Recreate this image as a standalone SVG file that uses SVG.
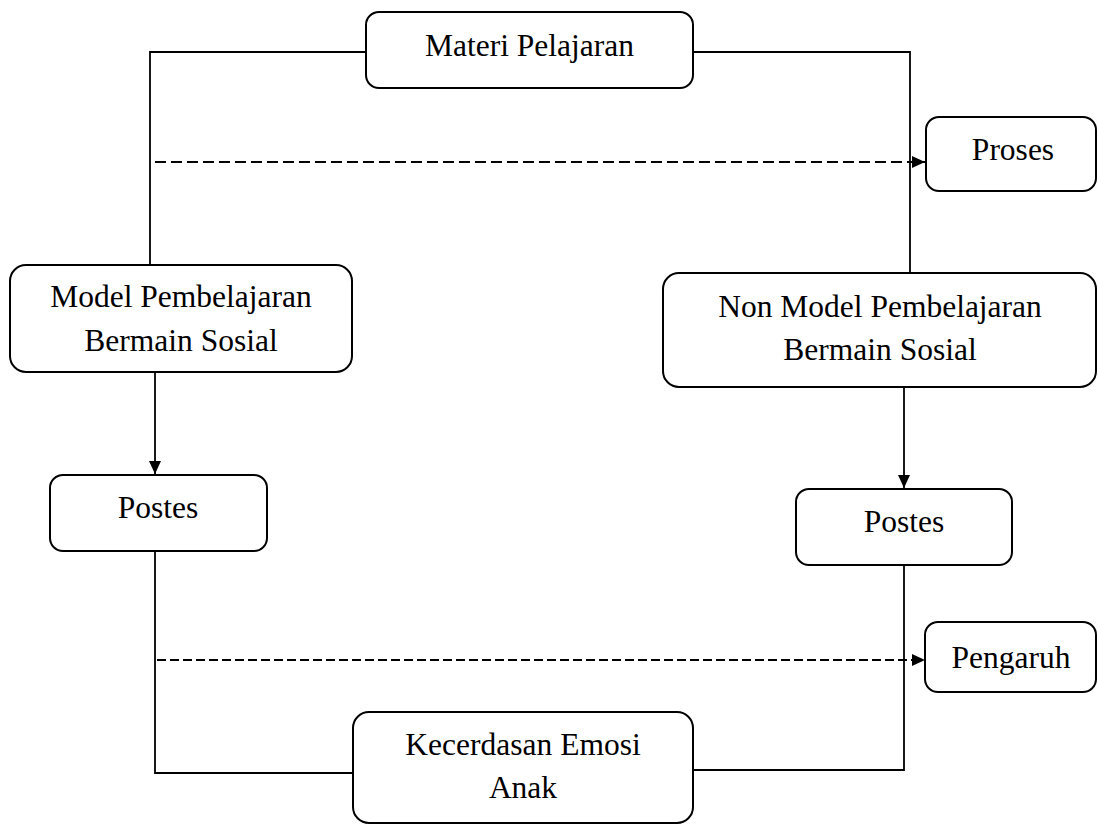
<svg xmlns="http://www.w3.org/2000/svg" width="1098" height="826" viewBox="0 0 1098 826">
<style>
.box{fill:#fff;stroke:#000;stroke-width:2}
text{font-family:'Liberation Serif',Tinos,'Times New Roman','DejaVu Serif',serif;font-size:31.5px;fill:#000;text-anchor:middle}
.ln{fill:none;stroke:#000;stroke-width:1.8}
.dash{fill:none;stroke:#000;stroke-width:1.8;stroke-dasharray:11 5}
</style>
<defs>
<marker id="ah" markerWidth="14" markerHeight="14" refX="13" refY="7" orient="auto" markerUnits="userSpaceOnUse">
<path d="M0,1 L13,7 L0,13 Z" fill="#000"/>
</marker>
</defs>
<rect width="1098" height="826" fill="#fff"/>
<g id="connectors">
<polyline class="ln" points="366,52 150,52 150,265"/>
<polyline class="ln" points="693,52 910,52 910,273"/>
<line class="dash" x1="155" y1="162" x2="925" y2="162" marker-end="url(#ah)"/>
<line class="ln" x1="155" y1="372" x2="155" y2="474" marker-end="url(#ah)"/>
<line class="ln" x1="904" y1="387" x2="904" y2="488" marker-end="url(#ah)"/>
<polyline class="ln" points="155,551 155,773 353,773"/>
<polyline class="ln" points="904,565 904,770 693,770"/>
<line class="dash" x1="157" y1="660" x2="925" y2="660" marker-end="url(#ah)" style="stroke-dasharray:9 4"/>
</g>
<g id="materi">
<rect class="box" x="366" y="12" width="327" height="76" rx="13"/>
<text font-family="Liberation Serif" x="529.5" y="56">Materi Pelajaran</text>
</g>
<g id="proses">
<rect class="box" x="926" y="117" width="170" height="74" rx="13"/>
<text x="1013" y="160">Proses</text>
</g>
<g id="model">
<rect class="box" x="10" y="265" width="342" height="107" rx="16"/>
<text x="181" y="307">Model Pembelajaran</text>
<text x="181" y="351">Bermain Sosial</text>
</g>
<g id="nonmodel">
<rect class="box" x="663" y="273" width="433" height="114" rx="16"/>
<text x="880" y="317">Non Model Pembelajaran</text>
<text x="880" y="360">Bermain Sosial</text>
</g>
<g id="postes1">
<rect class="box" x="50" y="475" width="217" height="76" rx="13"/>
<text x="158" y="518">Postes</text>
</g>
<g id="postes2">
<rect class="box" x="796" y="489" width="216" height="76" rx="13"/>
<text x="904" y="532">Postes</text>
</g>
<g id="pengaruh">
<rect class="box" x="925" y="622" width="171" height="70" rx="13"/>
<text x="1011" y="668">Pengaruh</text>
</g>
<g id="kecerdasan">
<rect class="box" x="353" y="712" width="340" height="111" rx="16"/>
<text x="523" y="755">Kecerdasan Emosi</text>
<text x="523" y="798">Anak</text>
</g>
</svg>
